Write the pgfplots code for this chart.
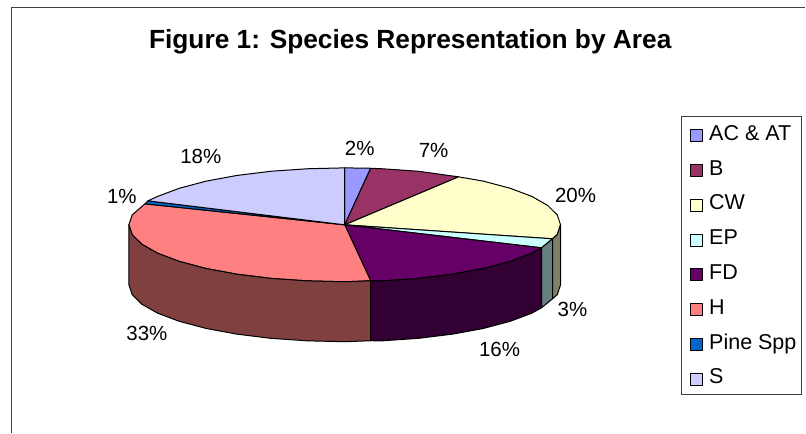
\documentclass[border=0pt]{standalone}
\usepackage{fontspec}
\setmainfont{Liberation Sans}
\usepackage{pgfplots}
\pgfplotsset{compat=1.18}
\definecolor{cAC}{HTML}{9999FF}
\definecolor{cB}{HTML}{993366}
\definecolor{cCW}{HTML}{FFFFCC}
\definecolor{cEP}{HTML}{CCFFFF}
\definecolor{cFD}{HTML}{660066}
\definecolor{cH}{HTML}{FF8080}
\definecolor{cPine}{HTML}{0066CC}
\definecolor{cS}{HTML}{CCCCFF}
\definecolor{sCW}{HTML}{808066}
\definecolor{sEP}{HTML}{668080}
\definecolor{sFD}{HTML}{330033}
\definecolor{sH}{HTML}{804040}
\pgfplotsset{
  slice/.style={draw=black, line width=1pt, line join=round, fill=#1, mark=none, sharp plot},
  swatch/.style={legend image code/.code={
    \draw[draw=black, line width=1pt, fill=#1] (0pt,-8pt) rectangle (12pt,4pt);}},
}
\begin{document}
\begin{tikzpicture}
\begin{axis}[
    scale only axis, width=806pt, height=433pt,
    xmin=0, xmax=806, ymin=0, ymax=433,
    y dir=reverse,
    hide axis, clip=false,
    legend cell align=left,
    legend style={at={(axis cs:682,116)}, anchor=north west, draw=black!75, line width=1pt,
      font=\fontsize{21.5}{22}\selectfont, inner xsep=8pt, inner ysep=7pt,
      row sep=13.8pt, nodes={inner sep=0pt, text height=17pt, text depth=4pt},
      /tikz/every odd column/.style={column sep=6.3pt}},
]
% frame, only the left and top edges are inside the picture
\draw[black!75, line width=1.3pt] (axis cs:11.5,433) -- (axis cs:11.5,7.5) -- (axis cs:806,7.5);
\path[use as bounding box] (axis cs:0,0) rectangle (axis cs:806,433);

% top of the pie, one slice per series
\addplot[slice=cAC, swatch=cAC] coordinates {(345,225)(345,168)(371,168.4)} --cycle;
\addlegendentry{AC \& AT}
\addplot[slice=cB, swatch=cB] coordinates {(345,225)(371,168.4)(382.5,168.9)(418.9,171.4)(459,177)} --cycle;
\addlegendentry{B}
\addplot[slice=cCW, swatch=cCW] coordinates {(345,225)(459,177)(483.8,181.3)(510.5,188.4)(532.1,196.5)(548,205.5)(557.7,215.1)(561,225)(557.7,234.9)(553,239)} --cycle;
\addlegendentry{CW}
\addplot[slice=cEP, swatch=cEP] coordinates {(345,225)(553,239)(542,248)} --cycle;
\addlegendentry{EP}
\addplot[slice=cFD, swatch=cFD] coordinates {(345,225)(542,248)(532.1,253.5)(510.5,261.6)(483.8,268.7)(453,274.4)(418.9,278.6)(382.5,281.1)(371,281)} --cycle;
\addlegendentry{FD}
\addplot[slice=cH, swatch=cH] coordinates {(345,225)(371,281)(345,282)(307.5,281.1)(271.1,278.6)(237,274.4)(206.2,268.7)(179.5,261.6)(157.9,253.5)(142,244.5)(132.3,234.9)(129,225)(132.3,215.1)(145,204)} --cycle;
\addlegendentry{H}
\addplot[slice=cPine, swatch=cPine] coordinates {(345,225)(145,204)(148,201)} --cycle;
\addlegendentry{Pine Spp\kern-2.5pt}
\addplot[slice=cS, swatch=cS] coordinates {(345,225)(148,201)(157.9,196.5)(179.5,188.4)(206.2,181.3)(237,175.6)(271.1,171.4)(307.5,168.9)(345,168)} --cycle;
\addlegendentry{S}

% side wall
\addplot[slice=sH, forget plot] coordinates {(129,225)(132.3,234.9)(142,244.5)(157.9,253.5)(179.5,261.6)(206.2,268.7)(237,274.4)(271.1,278.6)(307.5,281.1)(345,282)(371,281)(371,341)(345,342)(307.5,341.1)(271.1,338.6)(237,334.4)(206.2,328.7)(179.5,321.6)(157.9,313.5)(142,304.5)(132.3,294.9)(129,285)} --cycle;
\addplot[slice=sFD, forget plot] coordinates {(371,281)(382.5,281.1)(418.9,278.6)(453,274.4)(483.8,268.7)(510.5,261.6)(532.1,253.5)(542,248)(542,308)(532.1,313.5)(510.5,321.6)(483.8,328.7)(453,334.4)(418.9,338.6)(382.5,341.1)(371,341)} --cycle;
\addplot[slice=sEP, forget plot] coordinates {(542,248)(553,239)(553,299)(542,308)} --cycle;
\addplot[slice=sCW, forget plot] coordinates {(553,239)(557.7,234.9)(561,225)(561,285)(557.7,294.9)(553,299)} --cycle;

% title and data labels
\node[font=\fontsize{26.3}{28}\selectfont\bfseries, anchor=base west, inner sep=0pt] at (axis cs:149,48.5) {Figure 1: Species Representation by Area};
\begin{scope}[every node/.style={font=\fontsize{20.5}{24}\selectfont}]
\node at (axis cs:360,149) {2\%};
\node at (axis cs:434,151) {7\%};
\node at (axis cs:576,196) {20\%};
\node at (axis cs:573,310) {3\%};
\node at (axis cs:500,350) {16\%};
\node at (axis cs:147,334) {33\%};
\node at (axis cs:122,197) {1\%};
\node at (axis cs:201,157) {18\%};
\end{scope}
\end{axis}
\end{tikzpicture}
\end{document}
